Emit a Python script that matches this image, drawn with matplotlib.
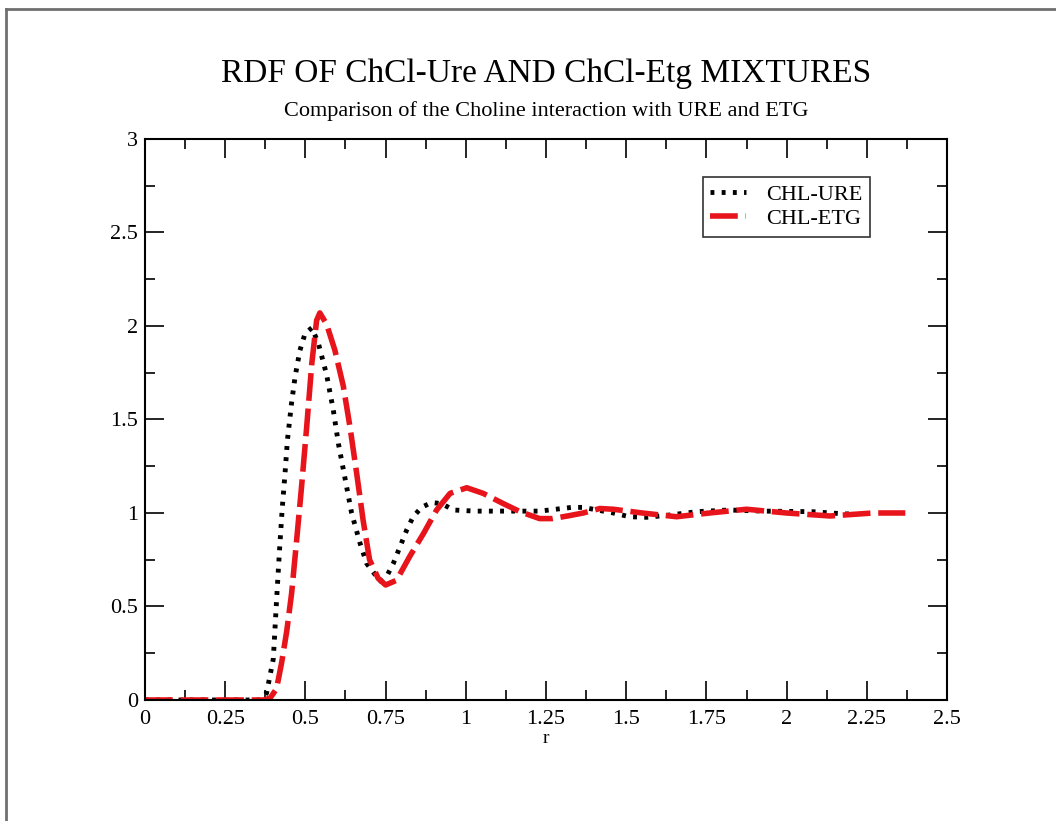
import numpy as np
import matplotlib
matplotlib.use("Agg")
import matplotlib.pyplot as plt
from matplotlib.lines import Line2D

# valeurs
r_ure = [0.0, 0.1, 0.2, 0.3, 0.36, 0.379, 0.40, 0.41, 0.42, 0.428, 0.436, 0.444,
         0.457, 0.468, 0.483, 0.499, 0.52, 0.54, 0.566, 0.587, 0.603, 0.623,
         0.644, 0.67, 0.691, 0.722, 0.735, 0.753, 0.774, 0.795, 0.816, 0.836,
         0.862, 0.893, 0.925, 0.961, 1.03, 1.14, 1.23, 1.28, 1.33, 1.366,
         1.46, 1.51, 1.564, 1.64, 1.72, 1.82, 1.93, 2.08, 2.18, 2.2]
g_ure = [0.0, 0.0, 0.0, 0.0, 0.0, 0.037, 0.22, 0.53, 0.82, 1.03, 1.20, 1.39,
         1.59, 1.73, 1.87, 1.96, 1.99, 1.91, 1.74, 1.55, 1.37, 1.19,
         1.0, 0.84, 0.73, 0.66, 0.635, 0.66, 0.73, 0.82, 0.91, 0.98,
         1.03, 1.056, 1.05, 1.016, 1.01, 1.01, 1.01, 1.02, 1.03, 1.03,
         1.0, 0.98, 0.977, 0.99, 1.007, 1.016, 1.01, 1.007, 0.995, 0.995]

r_etg = [0.0, 0.1, 0.2, 0.3, 0.37, 0.39, 0.41, 0.426, 0.442, 0.457, 0.473, 0.488,
         0.504, 0.52, 0.535, 0.545, 0.566, 0.592, 0.618, 0.639, 0.66, 0.68,
         0.70, 0.727, 0.75, 0.784, 0.826, 0.868, 0.909, 0.951, 1.003, 1.054,
         1.117, 1.169, 1.23, 1.27, 1.32, 1.366, 1.418, 1.46, 1.55, 1.657,
         1.76, 1.875, 2.0, 2.135, 2.27, 2.37]
g_etg = [0.0, 0.0, 0.0, 0.0, 0.0, 0.01, 0.06, 0.20, 0.37, 0.57, 0.86, 1.14,
         1.46, 1.80, 2.03, 2.07, 2.01, 1.87, 1.68, 1.46, 1.21, 0.96,
         0.75, 0.65, 0.615, 0.64, 0.77, 0.89, 1.016, 1.105, 1.135, 1.105,
         1.05, 1.007, 0.97, 0.97, 0.985, 1.0, 1.024, 1.02, 1.0, 0.98,
         1.0, 1.02, 1.0, 0.984, 1.0, 1.0]

x_ticks = [0, 0.25, 0.5, 0.75, 1, 1.25, 1.5, 1.75, 2, 2.25, 2.5]
y_ticks = [0, 0.5, 1, 1.5, 2, 2.5, 3]

plt.rcParams['font.family'] = ['Liberation Serif', 'DejaVu Serif']

fig = plt.figure(figsize=(10.56, 8.21), dpi=100)
ax = fig.add_axes([0.1373, 0.1474, 0.7595, 0.6833])

ax.plot(r_ure, g_ure, color='black', lw=3.5, linestyle=(0, (0.8, 1.5)),
        label='CHL-URE')
ax.plot(r_etg, g_etg, color='#e8141b', lw=4, linestyle=(0, (5, 1.4)),
        label='CHL-ETG')

ax.set_xlim(0, 2.5)
ax.set_ylim(0, 3)
ax.set_xticks(x_ticks)
ax.set_yticks(y_ticks)
ax.set_xticklabels(['%g' % t for t in x_ticks])
ax.set_yticklabels(['%g' % t for t in y_ticks])
ax.set_xticks(np.arange(0.125, 2.5, 0.25), minor=True)
ax.set_yticks(np.arange(0.25, 3, 0.5), minor=True)
ax.tick_params(which='both', direction='in', top=True, right=True,
               labelsize=16, width=1.2)
ax.tick_params(which='major', length=14)
ax.tick_params(which='minor', length=7)
ax.tick_params(axis='x', which='major', pad=7)
ax.tick_params(axis='y', which='major', pad=5)
for s in ax.spines.values():
    s.set_linewidth(1.5)

ax.set_xlabel('r', fontsize=14, labelpad=1)

fig.text(0.517, 0.910, 'RDF OF ChCl-Ure AND ChCl-Etg MIXTURES', ha='center',
         va='center', fontsize=24)
fig.text(0.517, 0.865, 'Comparison of the Choline interaction with URE and ETG',
         ha='center', va='center', fontsize=16)

leg = ax.legend(loc='upper right', bbox_to_anchor=(0.904, 0.933), fontsize=16,
                frameon=True, fancybox=False, handlelength=1.6,
                borderpad=0.35, labelspacing=0.15, handletextpad=0.9,
                borderaxespad=0)
leg.get_frame().set_edgecolor('black')
leg.get_frame().set_linewidth(1.2)

# cadre gris de la page (haut et gauche)
fig.add_artist(Line2D([0.0055, 1.0], [0.9885, 0.9885], color='#707070', lw=2,
                      transform=fig.transFigure))
fig.add_artist(Line2D([0.0055, 0.0055], [0.0, 0.9885], color='#707070', lw=2,
                      transform=fig.transFigure))

fig.savefig('out.png', dpi=100)
